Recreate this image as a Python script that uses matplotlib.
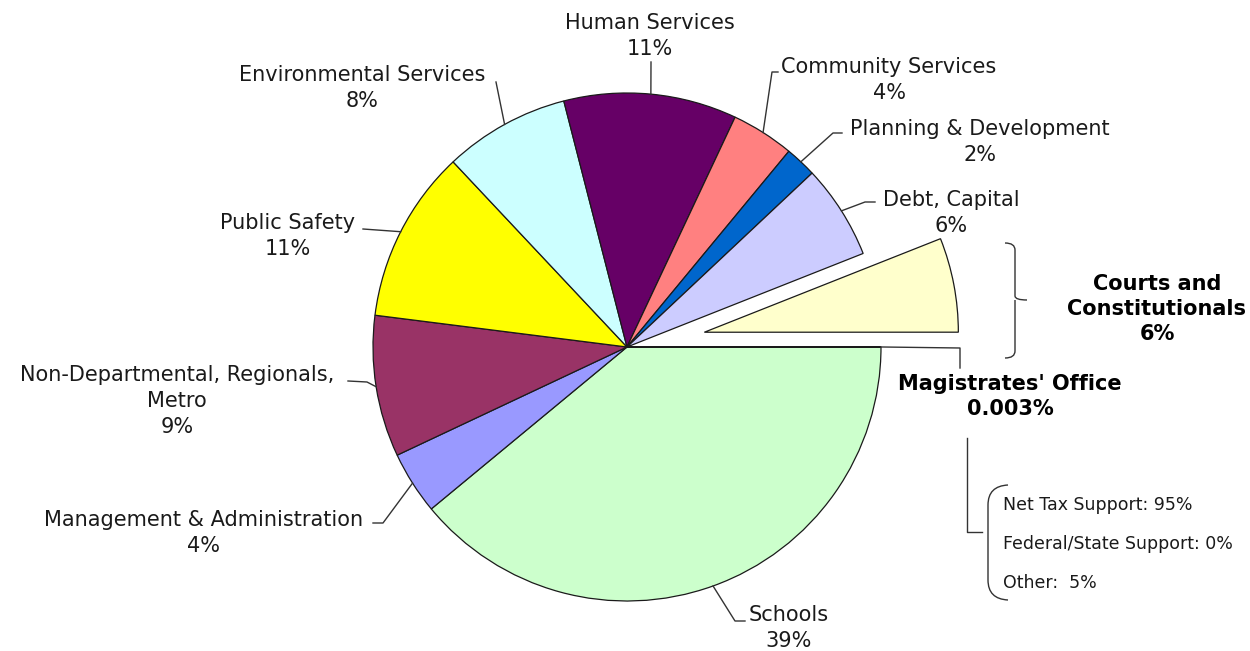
import matplotlib.pyplot as plt
from matplotlib.path import Path
from matplotlib.patches import PathPatch
import numpy as np

# budget shares (percent), clockwise from 3 o'clock
categories = ['Schools', 'Management & Administration',
              'Non-Departmental, Regionals,\nMetro', 'Public Safety',
              'Environmental Services', 'Human Services', 'Community Services',
              'Planning & Development', 'Debt, Capital',
              'Courts and\nConstitutionals', "Magistrates' Office"]
shares = [39, 4, 9, 11, 8, 11, 4, 2, 6, 6, 0.003]
pct_labels = ['39%', '4%', '9%', '11%', '8%', '11%', '4%', '2%', '6%', '6%', '0.003%']

# funding split of the Magistrates' Office
mag_funding = ['Net Tax Support: 95%', 'Federal/State Support: 0%', 'Other:  5%']

colors = ['#CCFFCC', '#9999FF', '#993366', '#FFFF00', '#CCFFFF', '#660066',
          '#FF8080', '#0066CC', '#CCCCFF', '#FFFFCC', '#FFFFFF']

W, H = 1250, 651
R = 254
fig = plt.figure(figsize=(W / 100, H / 100), dpi=100)
ax = fig.add_axes([0, 0, 1, 1])

# pull out only the Courts wedge (pie explode is in data units)
explode = [0.31 * R if i == 9 else 0 for i in range(len(shares))]

# y axis is inverted (pixel-like), so counterclock=True runs clockwise on screen
wedges, _ = ax.pie(shares, colors=colors, explode=explode, startangle=0,
                   counterclock=True, radius=R, center=(627, 347),
                   wedgeprops=dict(edgecolor='#1a1a1a', linewidth=0.9))
ax.set_xlim(0, W)
ax.set_ylim(H, 0)
ax.set_aspect('equal')
ax.axis('off')

line_kw = dict(color='#333333', linewidth=1.0)
font_main = 15
lsp = 1.38

# label layout: text position (center x, top y) and leader elbow points
layout = {
    0: ((789, 605), [(735, 621), (745, 621)]),
    1: ((204, 510), [(383, 523), (373, 523)]),
    2: ((177, 365), [(367, 382), (348, 381)]),
    3: ((288, 213), [(363, 229)]),
    4: ((362, 65), [(496, 82)]),
    5: ((650, 13), [(651, 62)]),
    6: ((889, 57), [(772, 72), (778, 72)]),
    7: ((980, 119), [(833, 133), (842, 133)]),
    8: ((951, 190), [(865, 202), (875, 202)]),
}

for i, (txt_pos, elbows) in layout.items():
    w = wedges[i]
    a = np.deg2rad((w.theta1 + w.theta2) / 2)
    anchor = (w.center[0] + w.r * np.cos(a), w.center[1] + w.r * np.sin(a))
    pts = [anchor] + elbows
    ax.plot([p[0] for p in pts], [p[1] for p in pts], **line_kw)
    ax.text(txt_pos[0], txt_pos[1], categories[i] + '\n' + pct_labels[i],
            ha='center', va='top', multialignment='center', linespacing=lsp,
            fontsize=font_main, color='#1a1a1a')

# Courts and Constitutionals (bold, with brace)
ax.text(1157, 274, categories[9] + '\n' + pct_labels[9], ha='center', va='top',
        multialignment='center', linespacing=1.3, fontsize=15, fontweight='bold',
        color='black')
brace_r = Path([(1005, 243), (1015, 243), (1015, 250), (1015, 296), (1015, 300),
                (1027, 300), (1015, 300), (1015, 304), (1015, 351),
                (1015, 358), (1005, 358)],
               [Path.MOVETO, Path.CURVE3, Path.CURVE3, Path.LINETO, Path.CURVE3,
                Path.CURVE3, Path.MOVETO, Path.CURVE3, Path.LINETO,
                Path.CURVE3, Path.CURVE3])
ax.add_patch(PathPatch(brace_r, fill=False, edgecolor='#333333', linewidth=1.0))

# Magistrates' Office
wm = wedges[10]
am = np.deg2rad((wm.theta1 + wm.theta2) / 2)
m_anchor = (wm.center[0] + wm.r * np.cos(am), wm.center[1] + wm.r * np.sin(am))
ax.plot([m_anchor[0], 960, 960], [m_anchor[1], 348, 368], **line_kw)
ax.text(1010, 374, categories[10] + '\n' + pct_labels[10], ha='center', va='top',
        multialignment='center', linespacing=1.3, fontsize=15, fontweight='bold',
        color='black')

ax.plot([967, 967, 982], [438, 532, 532], **line_kw)
brace_l = Path([(1008, 485), (988, 486), (988, 505), (988, 580), (988, 599), (1008, 600)],
               [Path.MOVETO, Path.CURVE3, Path.CURVE3, Path.LINETO, Path.CURVE3, Path.CURVE3])
ax.add_patch(PathPatch(brace_l, fill=False, edgecolor='#333333', linewidth=1.0))

for k, s in enumerate(mag_funding):
    ax.text(1003, 505 + 39 * k, s, ha='left', va='center', fontsize=12.5, color='#1a1a1a')

fig.savefig('out.png', dpi=100)
